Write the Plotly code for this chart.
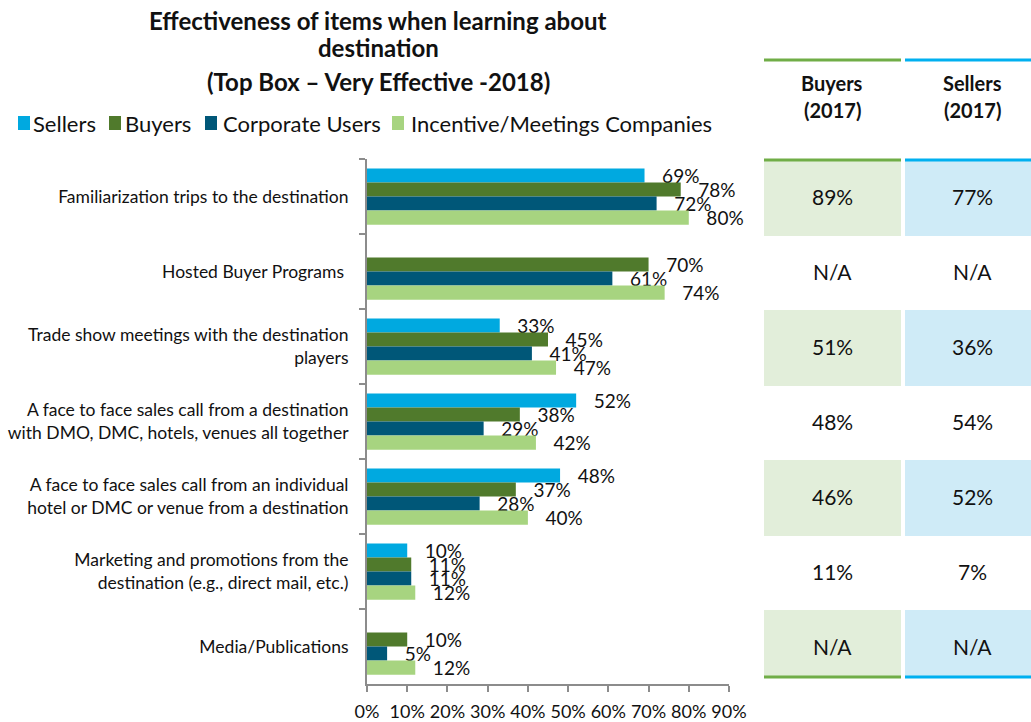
import plotly.graph_objects as go

# ---------------- data ----------------
categories = [
    "Familiarization trips to the destination",
    "Hosted Buyer Programs ",
    "Trade show meetings with the destination<br>players",
    "A face to face sales call from a destination<br>with DMO, DMC, hotels, venues all together",
    "A face to face sales call from an individual<br>hotel or DMC or venue from a destination",
    "Marketing and promotions from the<br>destination (e.g., direct mail, etc.)",
    "Media/Publications",
]
series_names = ["Sellers", "Buyers", "Corporate Users", "Incentive/Meetings Companies"]
sellers = [69, None, 33, 52, 48, 10, None]
buyers = [78, 70, 45, 38, 37, 11, 10]
corporate = [72, 61, 41, 29, 28, 11, 5]
incentive = [80, 74, 47, 42, 40, 12, 12]
buyers_2017 = ["89%", "N/A", "51%", "48%", "46%", "11%", "N/A"]
sellers_2017 = ["77%", "N/A", "36%", "54%", "52%", "7%", "N/A"]
x_ticks = [0, 10, 20, 30, 40, 50, 60, 70, 80, 90]
x_tick_labels = ["0%", "10%", "20%", "30%", "40%", "50%", "60%", "70%", "80%", "90%"]
title_lines = ["Effectiveness of items when learning about", "destination",
               "(Top Box \u2013 Very Effective -2018)"]
table_headers = [["Buyers", "(2017)"], ["Sellers", "(2017)"]]

colors = ["#00A9E0", "#507A2C", "#005778", "#A7D480"]
FONT = "Lato"

# ---------------- geometry helpers (pixels -> paper) ----------------
W, H = 1031, 722
PL, PR, PT, PB = 367, 729, 159, 684


def xp(px):
    return (px - PL) / (PR - PL)


def yp(py):
    return (PB - py) / (PB - PT)


fig = go.Figure()
for name, vals, col in zip(series_names, [sellers, buyers, corporate, incentive], colors):
    fig.add_trace(go.Bar(
        name=name, y=categories, x=vals, orientation="h",
        text=[("%d%%" % v) if v is not None else "" for v in vals],
        marker=dict(color=col, line=dict(width=0)),
        texttemplate="\u00a0\u00a0\u00a0%{text}", textposition="outside",
        textfont=dict(family=FONT, size=19, color="#111111"),
        cliponaxis=False, constraintext="none", showlegend=False,
    ))

shapes = []
annotations = []

# title
for line, py in zip(title_lines, [20, 48, 82]):
    annotations.append(dict(text="<b>%s</b>" % line, xref="paper", yref="paper",
                            x=xp(378), y=yp(py), xanchor="center", yanchor="middle",
                            showarrow=False, font=dict(family=FONT, size=24, color="#111111")))

# manual legend
sq_x = [18, 109, 205, 392]
tx_x = [31, 123, 221, 409]
for name, col, sx, tx in zip(series_names, colors, sq_x, tx_x):
    shapes.append(dict(type="rect", xref="paper", yref="paper",
                       x0=xp(sx), x1=xp(sx + 12), y0=yp(130), y1=yp(116),
                       fillcolor=col, line=dict(width=0)))
    annotations.append(dict(text=name, xref="paper", yref="paper", x=xp(tx), y=yp(123),
                            xanchor="left", yanchor="middle", showarrow=False,
                            font=dict(family=FONT, size=22, color="#111111")))

# table on the right
cols = [(764, 901, "#70AD47", "#E2EEDA", 832, buyers_2017),
        (905, 1031, "#00B0F0", "#CFEBF7", 972, sellers_2017)]
for (c0, c1, lc, fc, cx, vals), hdr in zip(cols, table_headers):
    shapes.append(dict(type="line", xref="paper", yref="paper", x0=xp(c0), x1=xp(c1),
                       y0=yp(60), y1=yp(60), line=dict(color=lc, width=3)))
    shapes.append(dict(type="line", xref="paper", yref="paper", x0=xp(c0), x1=xp(c1),
                       y0=yp(160), y1=yp(160), line=dict(color=lc, width=3)))
    for i in range(len(categories)):
        if i % 2 == 0:
            top = PT + 75 * i + 1
            bot = PT + 75 * i + 77 if i < len(categories) - 1 else 676
            shapes.append(dict(type="rect", xref="paper", yref="paper", x0=xp(c0), x1=xp(c1),
                               y0=yp(bot), y1=yp(top), fillcolor=fc, line=dict(width=0),
                               layer="below"))
    shapes.append(dict(type="line", xref="paper", yref="paper", x0=xp(c0), x1=xp(c1),
                       y0=yp(677), y1=yp(677), line=dict(color=lc, width=3)))
    for txt, py in zip(hdr, [83, 110]):
        annotations.append(dict(text="<b>%s</b>" % txt, xref="paper", yref="paper",
                                x=xp(cx), y=yp(py), xanchor="center", yanchor="middle",
                                showarrow=False, font=dict(family=FONT, size=20, color="#111111")))
    for cat, v in zip(categories, vals):
        annotations.append(dict(text=v, xref="paper", yref="y", x=xp(cx), y=cat,
                                xanchor="center", yanchor="middle", showarrow=False,
                                font=dict(family=FONT, size=21, color="#111111")))

fig.update_layout(
    width=W, height=H, autosize=False,
    margin=dict(l=PL, r=W - PR, t=PT, b=H - PB, pad=0, autoexpand=False),
    paper_bgcolor="white", plot_bgcolor="white",
    barmode="group", bargap=0.25, bargroupgap=0,
    font=dict(family=FONT, color="#111111"),
    shapes=shapes, annotations=annotations,
    xaxis=dict(range=[0, 90], tickvals=x_ticks, ticktext=x_tick_labels, showgrid=False,
               zeroline=False, showline=True, linecolor="#8C8C8C", linewidth=2,
               ticks="outside", ticklen=6, tickcolor="#8C8C8C", tickwidth=2, automargin=False,
               tickfont=dict(family=FONT, size=18, color="#111111"), ticklabelstandoff=4),
    yaxis=dict(type="category", autorange="reversed", showgrid=False, zeroline=False,
               showline=True, linecolor="#8C8C8C", linewidth=2, ticks="outside",
               tickson="boundaries", ticklen=6, tickcolor="#8C8C8C", tickwidth=2,
               automargin=False,
               tickfont=dict(family=FONT, size=17.5, color="#111111"), ticklabelstandoff=13),
)

fig.write_html("out.html", config={"displayModeBar": False},
               post_script="document.body.style.margin='0';")
